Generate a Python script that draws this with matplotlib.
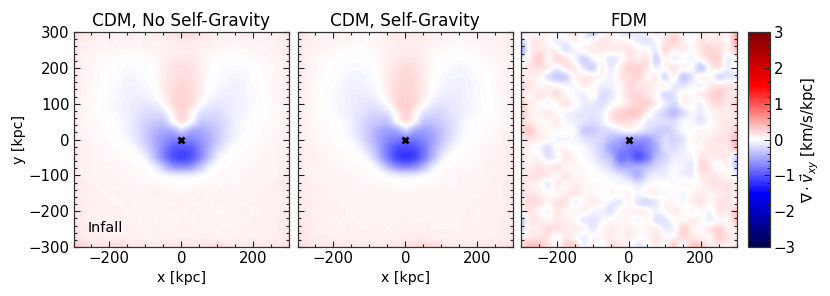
import matplotlib
matplotlib.use("Agg")
import matplotlib.pyplot as plt
from matplotlib.ticker import MultipleLocator
import numpy as np

titles = ["CDM, No Self-Gravity", "CDM, Self-Gravity", "FDM"]

# divergence, in units of 0.01 km/s/kpc
# rows go from y=300 down to y=-300, columns from x=-300 to x=300, both every 25 kpc
cdm_nosg = [
    [22, 16, 11, 12, 8, 10, 12, 8, 8, 12, 14, 18, 22, 24, 20, 14, 8, 10, 8, 12, 8, 6, 10, 10, 16],
    [14, 10, 9, 6, 8, 6, 8, 6, 9, 7, 10, 11, 13, 14, 10, 9, 6, 8, 5, 7, 6, 8, 6, 10, 13],
    [13, 8, 7, 5, 6, 4, 5, 4, 6, 6, 8, 10, 11, 11, 8, 7, 5, 4, 4, 4, 6, 5, 8, 8, 11],
    [13, 7, 6, 4, 3, 1, 0, 1, 3, 4, 8, 12, 14, 13, 9, 4, 2, 0, 0, 1, 3, 4, 6, 6, 11],
    [13, 8, 4, 3, 1, -1, -3, -2, 0, 3, 10, 16, 18, 16, 10, 3, 0, -2, -3, -3, 0, 3, 4, 7, 11],
    [12, 7, 5, 2, 0, -3, -5, -4, -2, 2, 10, 17, 20, 18, 11, 2, -2, -4, -6, -4, -1, 2, 5, 6, 11],
    [12, 7, 4, 2, -1, -4, -7, -6, -3, 0, 12, 19, 22, 20, 12, 0, -3, -6, -8, -5, -2, 1, 4, 7, 11],
    [12, 6, 4, 1, -2, -4, -8, -9, -7, -2, 10, 20, 24, 21, 10, -2, -7, -9, -9, -5, -3, 1, 3, 6, 10],
    [9, 5, 3, 0, -3, -6, -9, -11, -13, -9, 2, 20, 26, 20, 2, -9, -13, -11, -9, -6, -3, 0, 3, 5, 9],
    [9, 5, 3, 0, -2, -5, -9, -13, -20, -20, -14, 8, 24, 8, -14, -20, -20, -13, -9, -5, -2, 0, 3, 5, 9],
    [9, 5, 3, 2, 0, -3, -8, -17, -25, -30, -30, -2, 16, -2, -30, -30, -25, -17, -8, -3, 0, 2, 3, 5, 9],
    [10, 6, 4, 3, 0, -2, -8, -17, -30, -42, -50, -45, -25, -45, -50, -42, -30, -17, -8, -2, 0, 3, 4, 6, 10],
    [11, 7, 5, 3, 2, 0, -5, -15, -30, -48, -62, -72, -75, -72, -62, -48, -30, -15, -5, 0, 2, 3, 5, 7, 11],
    [11, 8, 6, 4, 3, 2, 0, -7, -22, -45, -72, -95, -100, -95, -72, -45, -22, -7, 0, 2, 3, 4, 6, 8, 11],
    [11, 8, 6, 5, 4, 3, 2, 0, -10, -38, -72, -100, -110, -100, -72, -38, -10, 0, 2, 3, 4, 5, 6, 8, 11],
    [11, 8, 6, 5, 5, 4, 3, 2, 0, -12, -38, -62, -70, -62, -38, -12, 0, 2, 3, 4, 5, 5, 6, 8, 11],
    [11, 8, 6, 6, 5, 5, 4, 4, 3, 0, -5, -10, -12, -10, -5, 0, 3, 4, 4, 5, 5, 6, 6, 8, 11],
    [13, 11, 8, 6, 7, 5, 6, 4, 5, 4, 3, 2, 0, 2, 3, 5, 4, 5, 4, 6, 6, 7, 8, 11, 13],
    [12, 10, 9, 7, 6, 8, 5, 7, 5, 8, 6, 5, 6, 5, 7, 6, 5, 7, 5, 7, 6, 8, 8, 10, 13],
    [14, 11, 8, 9, 7, 6, 8, 6, 7, 5, 7, 6, 8, 6, 7, 5, 8, 6, 7, 6, 8, 7, 9, 9, 12],
    [14, 10, 9, 7, 8, 8, 5, 7, 5, 7, 5, 8, 6, 8, 5, 7, 4, 7, 6, 8, 6, 8, 7, 10, 13],
    [15, 11, 8, 9, 6, 8, 7, 5, 8, 6, 8, 5, 8, 5, 8, 6, 7, 5, 7, 6, 8, 7, 9, 10, 12],
    [17, 11, 10, 8, 9, 6, 8, 7, 6, 8, 6, 8, 7, 9, 6, 8, 6, 8, 6, 8, 7, 9, 8, 11, 14],
    [21, 14, 10, 11, 9, 10, 8, 9, 8, 7, 10, 8, 10, 9, 10, 8, 9, 7, 9, 8, 10, 8, 11, 11, 15],
    [30, 24, 16, 18, 16, 22, 18, 12, 14, 12, 16, 14, 16, 14, 16, 18, 22, 16, 14, 12, 14, 12, 16, 16, 22],
]

cdm_sg = [
    [18, 14, 11, 9, 10, 6, 9, 6, -3, 7, 11, 13, 14, 15, 13, 10, 9, 8, 7, 9, 8, 7, 9, 10, 15],
    [14, 10, 8, 6, 7, 5, 5, 4, 5, 6, 9, 10, 11, 11, 9, 8, 5, 6, 4, 6, 6, 7, 7, 9, 12],
    [13, 8, 7, 5, 4, 2, 2, 1, 3, 5, 8, 10, 12, 11, 8, 5, 4, 2, 2, 3, 4, 5, 7, 8, 11],
    [13, 8, 5, 3, 2, 0, -1, -1, 1, 4, 8, 13, 15, 14, 9, 4, 1, -1, -2, 0, 2, 4, 5, 7, 10],
    [13, 7, 5, 2, 0, -2, -4, -3, -1, 3, 11, 17, 20, 17, 11, 3, -1, -3, -5, -3, -1, 2, 4, 6, 10],
    [12, 7, 4, 1, -1, -4, -6, -6, -3, 2, 11, 19, 22, 19, 11, 2, -3, -6, -7, -5, -2, 1, 4, 7, 11],
    [12, 7, 4, 1, -2, -5, -8, -8, -5, 0, 12, 21, 24, 21, 12, 0, -5, -8, -9, -6, -3, 1, 4, 6, 11],
    [11, 6, 3, 0, -3, -6, -10, -11, -9, -3, 10, 22, 26, 22, 10, -3, -9, -11, -10, -6, -3, 0, 3, 6, 11],
    [10, 6, 3, 0, -4, -7, -10, -13, -15, -11, 2, 21, 28, 21, 2, -11, -15, -13, -10, -7, -4, 0, 3, 6, 10],
    [10, 6, 3, 0, -3, -6, -11, -15, -22, -22, -15, 8, 26, 8, -15, -22, -22, -15, -11, -6, -3, 0, 3, 6, 10],
    [10, 6, 3, 2, 0, -3, -9, -20, -28, -34, -33, -3, 16, -3, -33, -34, -28, -20, -9, -3, 0, 2, 3, 6, 10],
    [10, 7, 5, 3, 0, -2, -9, -20, -34, -48, -55, -50, -28, -50, -55, -48, -34, -20, -9, -2, 0, 3, 5, 7, 10],
    [11, 8, 5, 4, 2, 0, -6, -17, -34, -54, -70, -78, -82, -78, -70, -54, -34, -17, -6, 0, 2, 4, 5, 8, 11],
    [11, 8, 7, 5, 3, 2, 0, -8, -25, -50, -80, -102, -108, -102, -80, -50, -25, -8, 0, 2, 3, 5, 7, 8, 11],
    [11, 9, 7, 6, 4, 3, 2, 0, -12, -42, -78, -108, -118, -108, -78, -42, -12, 0, 2, 3, 4, 6, 7, 9, 11],
    [11, 9, 8, 5, 5, 4, 3, 2, 0, -14, -42, -66, -75, -66, -42, -14, 0, 2, 3, 4, 5, 7, 8, 9, 11],
    [12, 9, 6, 6, 5, 5, 5, 4, 3, 0, -6, -12, -14, -12, -6, 0, 3, 4, 5, 5, 6, 6, 8, 9, 12],
    [13, 10, 9, 7, 7, 6, 5, 4, 5, 4, 3, 2, 0, 2, 3, 4, 5, 4, 5, 5, 6, 7, 8, 10, 13],
    [13, 10, 8, 8, 6, 7, 5, 6, 5, 7, 6, 5, 6, 5, 6, 6, 5, 6, 5, 7, 6, 8, 8, 10, 13],
    [14, 11, 9, 7, 8, 6, 7, 6, 6, 5, 6, 5, 7, 6, 7, 5, 7, 6, 7, 6, 8, 7, 8, 9, 13],
    [14, 10, 8, 8, 7, 8, 5, 6, 5, 6, 6, 7, 6, 7, 5, 6, 5, 7, 6, 8, 7, 8, 8, 10, 13],
    [15, 11, 9, 8, 7, 7, 7, 6, 7, 6, 7, 6, 8, 6, 7, 7, 6, 6, 7, 7, 7, 8, 9, 10, 12],
    [16, 11, 9, 9, 8, 7, 8, 7, 7, 8, 7, 8, 8, 9, 8, 7, 7, 7, 7, 8, 8, 8, 9, 11, 13],
    [17, 13, 10, 10, 9, 8, 8, 8, 8, 8, 9, 9, 11, 11, 12, 9, 9, 8, 8, 8, 9, 9, 10, 11, 14],
    [20, 16, 14, 15, 14, 14, 14, 12, 12, 14, 14, 16, 18, 22, 24, 22, 18, 14, 14, 12, 12, 14, 14, 16, 18],
]

fdm = [
    [18, 8, 5, 8, 4, 10, 18, -8, -30, -4, 14, -10, -22, -12, -5, 15, 5, 20, 5, -8, 12, 8, 12, 10, 45],
    [-30, 8, 12, 2, -10, -8, 8, -4, 5, 15, 10, 4, 3, -10, -15, -5, 15, 25, 10, 2, 15, 12, 15, 5, 50],
    [-55, 5, 15, 10, 5, -15, -5, 5, 10, 10, 12, 10, 15, 5, 2, -10, 20, 8, 10, 2, 15, 25, 18, 8, 35],
    [-10, 10, 30, 5, 20, 15, -5, -25, -5, 2, -15, -5, 15, 10, 15, -25, 5, -8, -2, -5, 5, 20, 25, -10, 10],
    [5, 15, 18, 10, -8, 12, 10, -15, -25, 8, -12, 10, 25, 25, 15, -10, 5, 15, 5, 0, -30, 5, 15, -10, 5],
    [10, 10, 5, -15, -30, -25, 5, 12, 8, 3, -8, 12, 20, 25, 5, 10, -20, 5, -30, -15, 5, 2, -20, -15, -15],
    [22, 15, 5, 8, 3, -5, -3, 8, 3, -10, -8, 3, 20, 15, 15, 5, 5, -10, -15, -5, -5, 10, 15, 15, 15],
    [15, 5, 15, 10, 18, 5, -5, -10, 3, -18, -14, 3, 18, 25, 15, 3, -20, -15, 5, 3, 10, 20, 30, 15, 15],
    [25, 10, 5, -5, 3, 15, 2, -10, -12, -18, -5, 5, 15, 25, 25, 8, -10, -22, 3, 5, -8, 15, 20, 15, 25],
    [30, 10, 5, 12, 3, -5, -10, -15, -15, -10, 12, 25, 30, 30, 10, -10, -25, -38, -20, -5, -10, 5, 10, 10, 20],
    [20, 12, 5, 5, 10, -3, -10, -15, -20, -10, 10, 20, 20, 10, -10, -15, -20, -20, -5, -5, -15, 0, 10, 15, 15],
    [20, 30, 10, 5, 3, 2, -5, -30, -30, -22, -18, -10, 0, -10, -20, -28, -30, -20, -5, 0, 5, 5, 10, 15, 25],
    [10, 15, 10, 3, -5, -5, -5, -15, -20, -25, -40, -50, -60, -60, -60, -40, -20, -25, -15, 5, 5, 10, 15, 18, 40],
    [15, 5, -5, -18, 2, 5, 0, -5, -15, -30, -55, -65, -80, -85, -70, -50, -20, -20, -10, 0, 5, 15, 12, 15, 35],
    [15, 5, 5, -15, -5, 12, 5, -2, -10, -25, -40, -80, -80, -100, -80, -40, -25, -10, -8, -5, 15, 10, 12, 10, -25],
    [15, 8, 15, 10, 15, 5, 5, 3, -3, -12, -25, -50, -50, -50, -40, -25, -15, -5, -8, -12, 20, 15, -5, 5, -30],
    [10, 15, 18, 10, 5, 15, 5, 5, 0, -2, -8, -15, -30, -45, -20, -10, -10, -2, -8, -8, 12, 15, 10, 5, -5],
    [15, 10, 5, -10, 10, 5, 10, 5, 3, 2, 0, -5, -5, -15, -5, 0, 2, -3, 5, 3, 5, 15, 15, 15, 10],
    [15, 15, 10, 3, 5, 10, 15, 5, 5, -2, 5, 3, 5, -5, 5, 8, -5, 3, -5, 5, 10, 5, 12, 15, 10],
    [10, 20, 18, 5, 15, 15, -5, 5, 10, 5, -8, -12, 5, -15, -22, -12, 5, 3, -5, 8, 15, 5, 15, 15, 5],
    [5, 15, 5, -5, 15, 5, 5, 8, -5, -8, -15, 3, 5, 8, 5, -8, 3, 10, 5, -5, 5, -5, 15, 12, 30],
    [-35, 10, 10, 5, 12, 10, 3, -12, -15, -5, 3, 5, 5, -5, 5, -15, -15, 2, 5, 10, 5, -10, 5, 5, 35],
    [-20, 10, 10, 20, 15, 12, 10, 5, -12, 5, 10, 5, 10, 5, 5, 10, -10, -5, 25, 10, 2, 15, 25, 10, 10],
    [15, 15, 18, 15, -5, 15, 5, -10, 5, 5, 12, 5, 10, 0, 5, 15, 5, 8, 20, 15, 10, 5, 25, 15, 10],
    [20, 40, 35, 20, 8, 25, 30, -5, 5, -5, 20, 15, 5, -15, -5, 10, 2, 30, -5, 35, 30, 15, 10, 5, 15],
]

panels = [cdm_nosg, cdm_sg, fdm]
lefts = [73.5, 297.5, 521.0]

W = 830.0
H = 296.0
fig = plt.figure(figsize=(W / 100, H / 100), dpi=100)

for i in range(0, 3):
	ax = fig.add_axes([lefts[i] / W, (H - 247.0) / H, 215.5 / W, 215.0 / H])
	data = np.array(panels[i]) / 100.0
	# catrom passes through the grid values, agg's bicubic blurs them
	im = ax.imshow(data, cmap="seismic", vmin=-3, vmax=3, extent=[-312.5, 312.5, -312.5, 312.5],
		interpolation="catrom", aspect="auto")
	ax.plot([0], [0], marker="x", color="black", ms=5, mew=2, ls="none")
	ax.set_xlim(-300, 300)
	ax.set_ylim(-300, 300)
	ax.xaxis.set_major_locator(MultipleLocator(200))
	ax.xaxis.set_minor_locator(MultipleLocator(50))
	ax.yaxis.set_major_locator(MultipleLocator(100))
	ax.yaxis.set_minor_locator(MultipleLocator(20))
	ax.tick_params(which="both", direction="in", top=True, right=True, labelsize=10.7, width=0.8, color="#222222", pad=3)
	ax.tick_params(which="major", length=4.5)
	ax.tick_params(which="minor", length=2.5)
	for s in ax.spines.values():
		s.set_linewidth(0.9)
		s.set_color("#333333")
	ax.set_title(titles[i], fontsize=12.2, pad=4)
	ax.set_xlabel("x [kpc]", fontsize=10.2, labelpad=3.5)
	if i == 0:
		ax.set_ylabel("y [kpc]", fontsize=10.2, labelpad=1.5)
		ax.text(-262, -247, "Infall", fontsize=10.4, va="center", ha="left")
	else:
		ax.tick_params(labelleft=False)

cax = fig.add_axes([748.0 / W, (H - 247.0) / H, 21.5 / W, 215.0 / H])
cb = fig.colorbar(im, cax=cax)
cb.set_ticks([-3, -2, -1, 0, 1, 2, 3])
cb.ax.yaxis.set_minor_locator(MultipleLocator(0.2))
cb.ax.tick_params(which="both", direction="in", labelsize=10.7, width=0.7, color="#222222", pad=3)
cb.ax.tick_params(which="major", length=4.5)
cb.ax.tick_params(which="minor", length=2.5)
cb.outline.set_linewidth(0.9)
cb.outline.set_edgecolor("#333333")
cb.set_label(r"$\nabla \cdot \vec{v}_{xy}$ [km/s/kpc]", fontsize=10.7, labelpad=2)

fig.savefig("out.png", dpi=100)
